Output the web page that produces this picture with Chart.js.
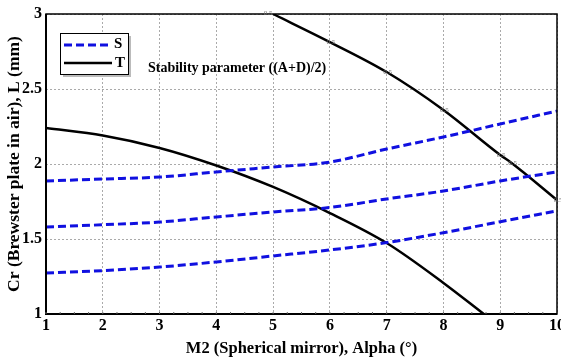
<!DOCTYPE html>
<html>
<head>
<meta charset="utf-8">
<script src="https://cdn.jsdelivr.net/npm/chart.js@4/dist/chart.umd.min.js"></script>
<style>
  html, body { margin: 0; padding: 0; background: #fff; }
  #wrap { width: 561px; height: 361px; }
</style>
</head>
<body>
<div id="wrap"><canvas id="chart" width="561" height="361"></canvas></div>
<script>
// values
const alpha = [1, 2, 3, 4, 5, 6, 7, 8, 9, 10];
const sLow = [1.273, 1.289, 1.313, 1.347, 1.387, 1.427, 1.476, 1.542, 1.615, 1.687];
const sMid = [1.58, 1.595, 1.613, 1.647, 1.68, 1.71, 1.767, 1.82, 1.887, 1.947];
const sHigh = [1.887, 1.9, 1.913, 1.947, 1.98, 2.013, 2.1, 2.18, 2.267, 2.353];
const tLowX = [1, 2, 3, 4, 5, 6, 7, 8, 8.71];
const tLow = [2.24, 2.19, 2.107, 1.99, 1.847, 1.673, 1.473, 1.207, 1.0];
const tHighX = [5, 6, 7, 8, 9, 9.2, 10];
const tHigh = [3.0, 2.813, 2.613, 2.36, 2.06, 2.007, 1.76];
const yTicks = [1, 1.5, 2, 2.5, 3];

const serif = "'Liberation Serif', 'DejaVu Serif', serif";

function pts(xs, ys) {
    return xs.map((x, i) => ({ x: x, y: ys[i] }));
}
function sSet(ys) {
    return {
        label: "S", data: pts(alpha, ys), borderColor: "#1010e0", borderWidth: 3,
        borderDash: [8, 4], pointRadius: 0, tension: 0.4, cubicInterpolationMode: "monotone"
    };
}
function tSet(xs, ys) {
    return {
        label: "T", data: pts(xs, ys), borderColor: "#000", borderWidth: 2.5,
        pointRadius: 0, tension: 0.4, cubicInterpolationMode: "monotone"
    };
}

const extras = {
    id: "extras",
    afterDatasetsDraw(chart) {
        const ctx = chart.ctx;
        const a = chart.chartArea;
        const xs = chart.scales.x, ys = chart.scales.y;
        ctx.save();
        // frame
        ctx.strokeStyle = "#000";
        ctx.lineWidth = 1.5;
        ctx.strokeRect(a.left, a.top, a.right - a.left, a.bottom - a.top);
        ctx.lineWidth = 2;
        ctx.beginPath();
        ctx.moveTo(a.left, a.top); ctx.lineTo(a.left, a.bottom); ctx.lineTo(a.right, a.bottom);
        ctx.stroke();
        // minor ticks on x
        ctx.lineWidth = 1;
        ctx.strokeStyle = "#666";
        for (let v = 1; v < 10; v += 0.25) {
            const px = xs.getPixelForValue(v);
            ctx.beginPath(); ctx.moveTo(px, a.bottom); ctx.lineTo(px, a.bottom - 2); ctx.stroke();
        }
        // contour labels
        ctx.fillStyle = "#777";
        ctx.font = "7px " + serif;
        ctx.textAlign = "center";
        ctx.textBaseline = "middle";
        tHighX.forEach((x, i) => {
            const px = xs.getPixelForValue(x), py = ys.getPixelForValue(tHigh[i]);
            ctx.fillText("0.5", i == 0 ? px - 5 : px + 1, i == 0 ? py - 1 : py);
        });
        // legend box
        const lx = 60, ly = 33, lw = 68, lh = 41;
        ctx.fillStyle = "#bbb";
        ctx.fillRect(lx + 3, ly + 3, lw, lh);
        ctx.fillStyle = "#fff";
        ctx.fillRect(lx, ly, lw, lh);
        ctx.strokeStyle = "#000";
        ctx.lineWidth = 1;
        ctx.strokeRect(lx + 0.5, ly + 0.5, lw, lh);
        ctx.lineWidth = 3;
        ctx.strokeStyle = "#1010e0";
        ctx.setLineDash([8, 4]);
        ctx.beginPath(); ctx.moveTo(lx + 4, ly + 12); ctx.lineTo(lx + 52, ly + 12); ctx.stroke();
        ctx.setLineDash([]);
        ctx.strokeStyle = "#000";
        ctx.lineWidth = 2.5;
        ctx.beginPath(); ctx.moveTo(lx + 4, ly + 30); ctx.lineTo(lx + 52, ly + 30); ctx.stroke();
        ctx.fillStyle = "#000";
        ctx.font = "bold 15px " + serif;
        ctx.textAlign = "left";
        ctx.fillText("S", lx + 54, ly + 11);
        ctx.fillText("T", lx + 55, ly + 30);
        // annotation
        ctx.font = "bold 14px " + serif;
        ctx.fillText("Stability parameter ((A+D)/2)", 148, 68);
        ctx.restore();
    }
};

new Chart(document.getElementById("chart"), {
    type: "line",
    data: {
        datasets: [sSet(sLow), sSet(sMid), sSet(sHigh), tSet(tLowX, tLow), tSet(tHighX, tHigh)]
    },
    options: {
        responsive: false,
        animation: false,
        layout: { padding: { top: 14, right: 4, left: 0, bottom: 0 } },
        plugins: { legend: { display: false }, tooltip: { enabled: false } },
        scales: {
            x: {
                type: "linear", min: 1, max: 10,
                ticks: { stepSize: 1, color: "#000", font: { family: serif, size: 16, weight: "bold" }, padding: 2 },
                grid: { color: "#aaa", lineWidth: 1, drawTicks: false },
                border: { display: false, dash: [2, 2] },
                title: { display: true, text: "M2 (Spherical mirror), Alpha (°)", color: "#000", font: { family: serif, size: 16.5, weight: "bold" }, padding: { top: 0, bottom: 2 } },
                afterFit: s => { s.height = 47; s.paddingLeft = 0; s.paddingRight = 0; }
            },
            y: {
                type: "linear", min: 1, max: 3,
                afterBuildTicks: s => { s.ticks = yTicks.map(v => ({ value: v })); },
                ticks: { color: "#000", font: { family: serif, size: 16, weight: "bold" }, padding: 4, callback: v => String(v) },
                grid: { color: "#aaa", lineWidth: 1, drawTicks: false },
                border: { display: false, dash: [2, 2] },
                title: { display: true, text: "Cr (Brewster plate in air), L (mm)", color: "#000", font: { family: serif, size: 17.5, weight: "bold" }, padding: { top: 4, bottom: 0 } },
                afterFit: s => { s.width = 46; s.paddingTop = 0; s.paddingBottom = 0; }
            }
        }
    },
    plugins: [extras]
});
</script>
</body>
</html>
